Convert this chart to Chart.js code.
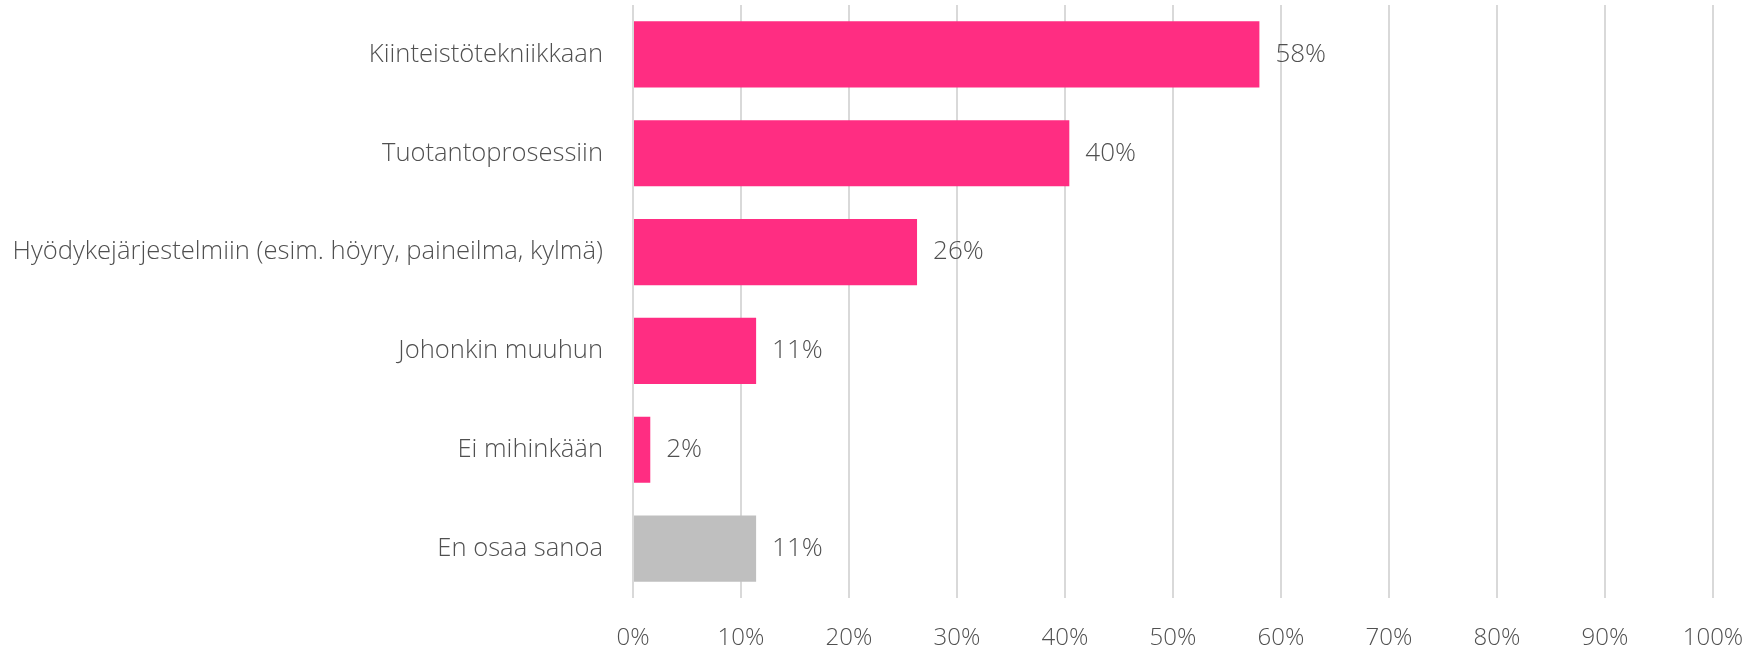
<!DOCTYPE html>
<html>
<head>
<meta charset="utf-8">
<script src="https://cdn.jsdelivr.net/npm/chart.js@4"></script>
<style>
  html, body { margin: 0; padding: 0; background: #fff; }
  #wrap { width: 1761px; height: 650px; }
</style>
</head>
<body>
<div id="wrap"><canvas id="chart"></canvas></div>
<script>
// Kaavion tiedot
const categories = [
    'Kiinteistötekniikkaan',
    'Tuotantoprosessiin',
    'Hyödykejärjestelmiin (esim. höyry, paineilma, kylmä)',
    'Johonkin muuhun',
    'Ei mihinkään',
    'En osaa sanoa'
];
const values = [58.0, 40.4, 26.3, 11.4, 1.6, 11.4];
const barColors = ['#FF2D82', '#FF2D82', '#FF2D82', '#FF2D82', '#FF2D82', '#BFBFBF'];
const xTicks = [0, 10, 20, 30, 40, 50, 60, 70, 80, 90, 100];

const FONT = "'Segoe UI', 'Open Sans', sans-serif";
const TEXT = '#505050';

// Arvot palkkien perään
const valueLabels = {
    id: 'valueLabels',
    afterDatasetsDraw(chart) {
        const c = chart.ctx;
        const meta = chart.getDatasetMeta(0);
        c.save();
        c.font = `300 26px ${FONT}`;
        c.fillStyle = TEXT;
        c.textAlign = 'left';
        c.textBaseline = 'middle';
        meta.data.forEach((bar, i) => {
            c.fillText(Math.round(values[i]) + '%', bar.x + 16, bar.y);
        });
        c.restore();
    }
};

const ctx = document.getElementById('chart').getContext('2d');
new Chart(ctx, {
    type: 'bar',
    data: {
        labels: categories,
        datasets: [{
            data: values,
            backgroundColor: barColors,
            borderWidth: 0,
            barPercentage: 0.67,
            categoryPercentage: 1
        }]
    },
    options: {
        indexAxis: 'y',
        responsive: true,
        maintainAspectRatio: false,
        animation: false,
        layout: { padding: { top: 5, right: 48, left: 0, bottom: 0 } },
        plugins: {
            legend: { display: false },
            tooltip: { enabled: false }
        },
        scales: {
            x: {
                min: 0,
                max: 100,
                afterBuildTicks: (axis) => {
                    axis.ticks = xTicks.map(v => ({ value: v }));
                },
                afterFit: (axis) => {
                    axis.height = 52;
                    axis.paddingLeft = 0;
                    axis.paddingRight = 0;
                },
                grid: {
                    color: '#D9D9D9',
                    lineWidth: 2,
                    drawTicks: false
                },
                border: { display: false },
                ticks: {
                    padding: 26,
                    color: TEXT,
                    font: { family: FONT, size: 24, weight: '300' },
                    callback: (v) => v + '%'
                }
            },
            y: {
                afterFit: (axis) => {
                    axis.width = 633;
                    axis.paddingTop = 0;
                    axis.paddingBottom = 0;
                },
                grid: { display: false, drawTicks: false },
                border: { display: false },
                ticks: {
                    padding: 30,
                    color: TEXT,
                    font: { family: FONT, size: 25.6, weight: '300' }
                }
            }
        }
    },
    plugins: [valueLabels]
});
</script>
</body>
</html>
